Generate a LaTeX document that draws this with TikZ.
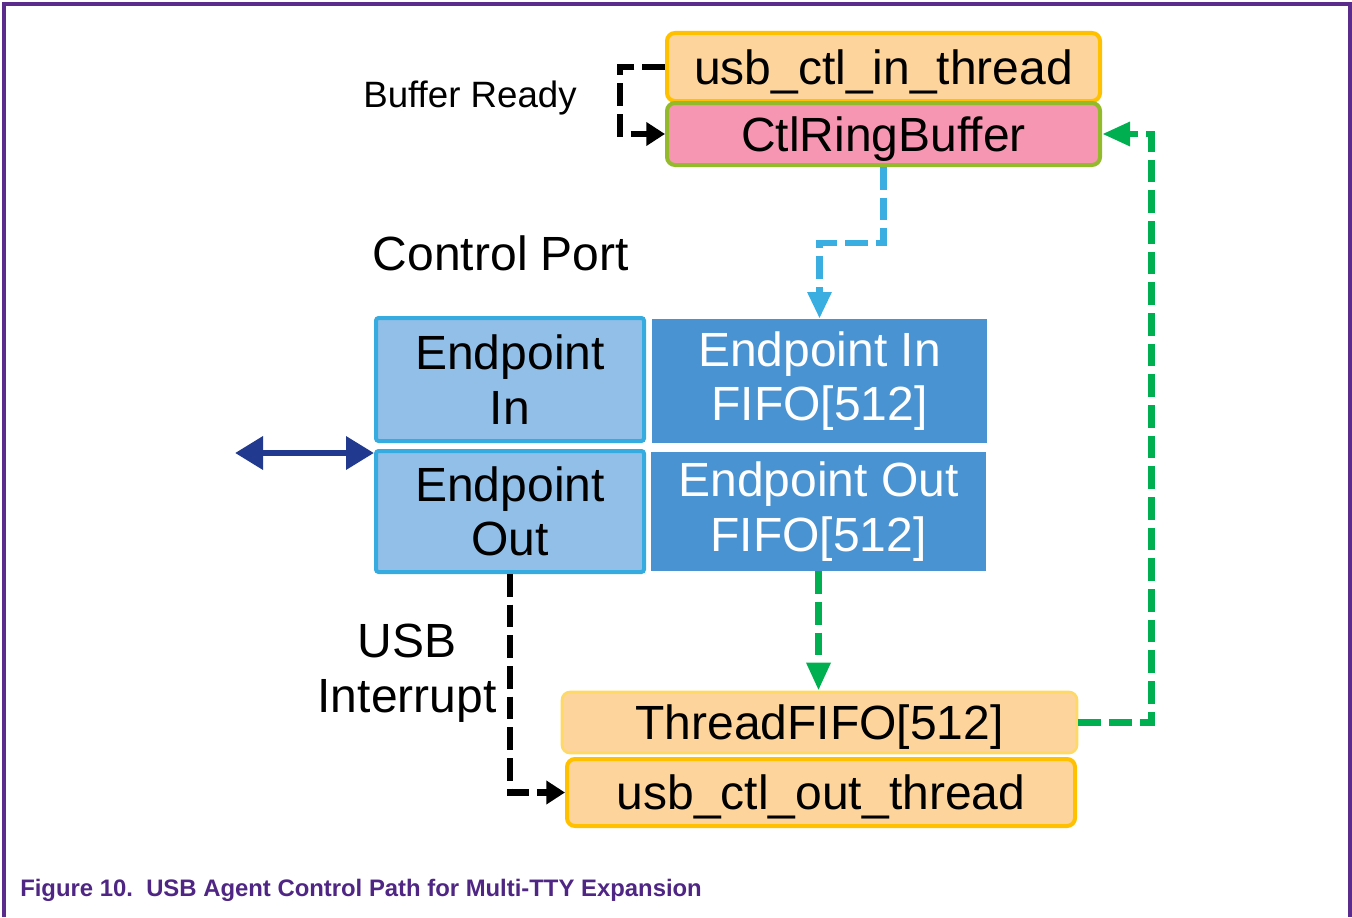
\documentclass[tikz,border=0pt]{standalone}
\usepackage{fontspec}
\setmainfont{Liberation Sans}
\usetikzlibrary{arrows.meta}
\definecolor{thrfill}{HTML}{FDD49B}
\definecolor{thrline}{HTML}{FFC000}
\definecolor{thrlight}{HTML}{FFD966}
\definecolor{ringfill}{HTML}{F796B2}
\definecolor{ringline}{HTML}{93BA2A}
\definecolor{epfill}{HTML}{92BFE7}
\definecolor{epline}{HTML}{35ABDF}
\definecolor{fifofill}{HTML}{4A93D2}
\definecolor{hostblue}{HTML}{213A8F}
\definecolor{flowgreen}{HTML}{00B050}
\definecolor{flowblue}{HTML}{3AAEE0}
\definecolor{framepurple}{HTML}{5B2C8C}
\definecolor{captionpurple}{HTML}{4F2683}
\tikzset{
  big/.style={font=\fontsize{36}{41}\selectfont},
  thread/.style={big, draw=thrline, fill=thrfill, line width=3pt, rounded corners=6pt, inner sep=0pt, text depth=0pt},
  ringbox/.style={big, draw=ringline, fill=ringfill, line width=3pt, rounded corners=6pt, inner sep=0pt, text depth=0pt},
  epbox/.style={big, draw=epline, fill=epfill, line width=3pt, rounded corners=2pt, align=center, inner sep=0pt},
  fifobox/.style={big, fill=fifofill, text=white, align=center, inner sep=0pt},
  flow/.style={line width=5.2pt, dash pattern=on 17pt off 6pt},
  blacktip/.style={-{Triangle[length=14pt,width=17pt]}},
  greentip/.style={-{Triangle[length=21pt,width=17pt]}},
  label/.style={big, inner sep=0pt},
  frameline/.style={draw=framepurple, line width=3pt},
}
\begin{document}
\begin{tikzpicture}[x=0.75pt, y=-0.75pt]
\useasboundingbox (0,0) rectangle (1352,917);

% outer frame, open at the bottom
\draw[frameline] (4,917) -- (4,4) -- (1350,4) -- (1350,917);

% thread and buffer blocks
\node[thread, minimum width=324.75pt, minimum height=51pt] (usbin) at (883.5,67) {usb\_ctl\_in\_thread};
\node[ringbox, minimum width=324.75pt, minimum height=46.5pt] (ring) at (883.5,134) {CtlRingBuffer};

% endpoints of the control port
\node[epbox, minimum width=201pt, minimum height=92.25pt] (epin) at (510,379.5) {Endpoint\\In};
\node[epbox, minimum width=201pt, minimum height=90.75pt] (epout) at (510,511.5) {Endpoint\\Out};
\node[fifobox, minimum width=251.25pt, minimum height=93pt] (epinfifo) at (819.5,381) {Endpoint In\\FIFO[512]};
\node[fifobox, minimum width=251.25pt, minimum height=89.25pt] (epoutfifo) at (818.5,511.5) {Endpoint Out\\FIFO[512]};

% output side
\node[thread, draw=thrlight, line width=2pt, minimum width=386.25pt, minimum height=45.75pt] (threadfifo) at (819.5,722.5) {ThreadFIFO[512]};
\node[thread, minimum width=381pt, minimum height=50.25pt] (usbout) at (821,792.5) {usb\_ctl\_out\_thread};

% labels
\node[inner sep=0pt, font=\fontsize{27.5}{32}\selectfont] (bufready) at (470,98) {Buffer Ready};
\node[label] (ctlport) at (501,253) {Control Port};
\node[label, align=center] (usbint) at (407,673) {USB\\Interrupt};

% connectors
\draw[flow, blacktip] (usbin.west) -- ++(-45,0) |- (ring.west);
\draw[flow, flowblue, -{Triangle[length=20pt,width=17pt]}] (ring.south) -- ++(0,76) -| (epinfifo.north);
\draw[flow, blacktip] (epout.south) |- (usbout.west);
\draw[flow, flowgreen, greentip] (epoutfifo.south) -- (epoutfifo.south |- threadfifo.north);
\draw[flow, flowgreen, greentip] (threadfifo.east) -- ++(73,0) |- (ring.east);

% host link
\coordinate (host) at (235,453);
\draw[hostblue, line width=5pt, {Triangle[length=21pt,width=24pt]}-{Triangle[length=21pt,width=24pt]}] (host) -- (host -| epout.west);

% caption
\node[anchor=base west, inner sep=0pt, text=captionpurple, font=\fontsize{17.9}{20}\selectfont\bfseries] (caption) at (20,896) {Figure 10.\ \ USB Agent Control Path for Multi-TTY Expansion};
\end{tikzpicture}
\end{document}
